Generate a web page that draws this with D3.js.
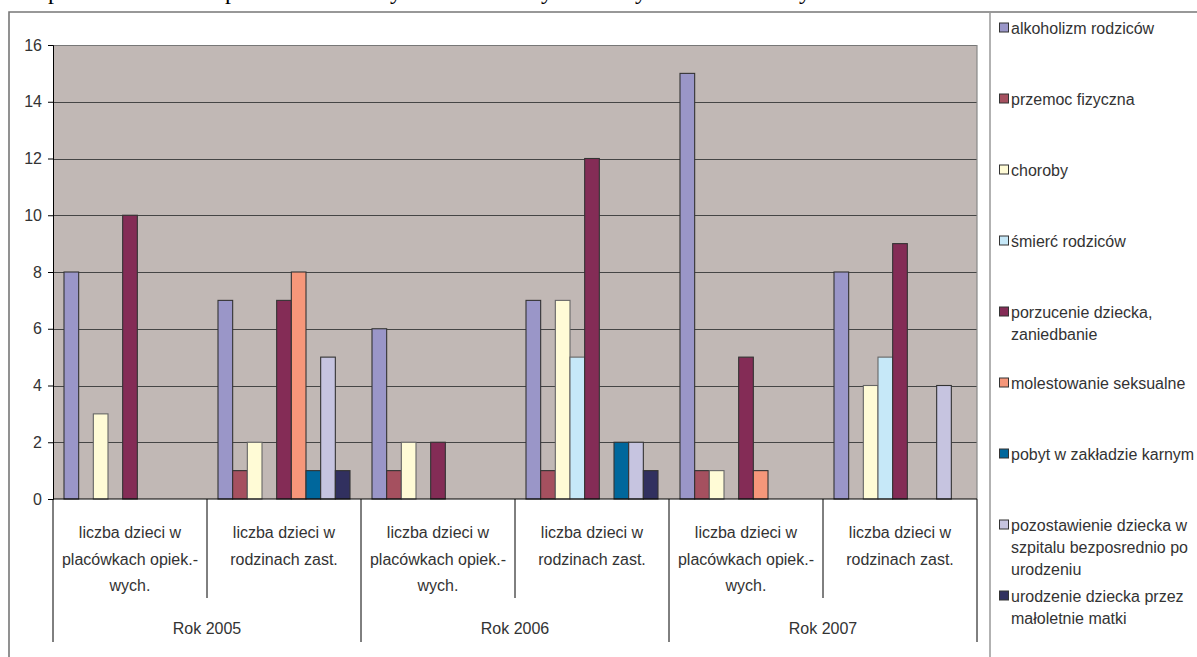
<!DOCTYPE html>
<html>
<head>
<meta charset="utf-8">
<script src="https://cdn.jsdelivr.net/npm/d3@7"></script>
<style>
  body { margin: 0; background: #fff; }
  svg { display: block; font-family: "Liberation Sans", Arial, sans-serif; }
</style>
</head>
<body>
<div id="chart"></div>
<script>

// categories: three years, two kinds of care each
var years = ["Rok 2005", "Rok 2006", "Rok 2007"];
var groupLabels = [
  ["liczba dzieci w", "placówkach opiek.-", "wych."],
  ["liczba dzieci w", "rodzinach zast."]
];

// series names (legend lines)
var seriesNames = [
  ["alkoholizm rodziców"],
  ["przemoc fizyczna"],
  ["choroby"],
  ["śmierć rodziców"],
  ["porzucenie dziecka,", "zaniedbanie"],
  ["molestowanie seksualne"],
  ["pobyt w zakładzie karnym"],
  ["pozostawienie dziecka w", "szpitalu bezposrednio po", "urodzeniu"],
  ["urodzenie dziecka przez", "małoletnie matki"]
];
var seriesColors = ["#9a96c8", "#a5505f", "#fffbd6", "#c6e8f8", "#842c56", "#f6977a", "#00679c", "#c6c4e0", "#31305f"];

// values per series, one per category (2005 plac., 2005 rodz., 2006 plac., 2006 rodz., 2007 plac., 2007 rodz.)
var alkoholizm    = [8, 7, 6, 7, 15, 8];
var przemoc       = [0, 1, 1, 1, 1, 0];
var choroby       = [3, 2, 2, 7, 1, 4];
var smierc        = [0, 0, 0, 5, 0, 5];
var porzucenie    = [10, 7, 2, 12, 5, 9];
var molestowanie  = [0, 8, 0, 0, 1, 0];
var pobyt         = [0, 1, 0, 2, 0, 0];
var pozostawienie = [0, 5, 0, 2, 0, 4];
var urodzenie     = [0, 1, 0, 1, 0, 0];
var seriesValues = [alkoholizm, przemoc, choroby, smierc, porzucenie, molestowanie, pobyt, pozostawienie, urodzenie];

var yTicks = [0, 2, 4, 6, 8, 10, 12, 14, 16];

var svgWidth = 1197;
var svgHeight = 657;

var plotLeft = 53, plotRight = 977, plotTop = 45, plotBottom = 499;

var svg = d3.select("#chart")
  .append("svg")
    .attr("width", svgWidth)
    .attr("height", svgHeight);

// cut-off line of document text above the chart
svg.append("g")
  .style("font-family", "'Liberation Serif', 'Times New Roman', serif")
  .style("font-size", "24px")
  .selectAll("text")
  .data([["p", 48], ["p", 225], ["y", 390], ["y", 541], ["y", 635], ["y", 799]])
  .enter()
  .append("text")
    .attr("x", function(d) { return d[1]; })
    .attr("y", -1)
    .attr("fill", "#000")
    .text(function(d) { return d[0]; });

// outer frame and legend divider
svg.append("path")
  .attr("d", "M9," + (svgHeight + 2) + "V12H" + (svgWidth + 2))
  .attr("fill", "none")
  .attr("stroke", "#777")
  .attr("stroke-width", 1.6);
svg.append("line")
  .attr("x1", 990).attr("x2", 990)
  .attr("y1", 12).attr("y2", svgHeight + 2)
  .attr("stroke", "#999")
  .attr("stroke-width", 1.5);

// scales
var cats = d3.range(years.length * groupLabels.length);
var x0 = d3.scaleBand()
  .domain(cats)
  .range([plotLeft, plotRight])
  .padding(0);
var x1 = d3.scaleBand()
  .domain(d3.range(seriesNames.length))
  .range([0, x0.bandwidth()])
  .paddingInner(0)
  .paddingOuter(0.75);
var y = d3.scaleLinear()
  .domain([0, 16])
  .range([plotBottom, plotTop]);

// plot background
svg.append("rect")
  .attr("x", plotLeft)
  .attr("y", plotTop)
  .attr("width", plotRight - plotLeft)
  .attr("height", plotBottom - plotTop)
  .attr("fill", "#c1b8b5");

// gridlines
svg.selectAll(".grid")
  .data(yTicks.filter(function(d) { return d > 0; }))
  .enter()
  .append("line")
    .attr("x1", plotLeft)
    .attr("x2", plotRight)
    .attr("y1", function(d) { return Math.round(y(d)) + 0.5; })
    .attr("y2", function(d) { return Math.round(y(d)) + 0.5; })
    .attr("stroke", function(d) { return d === 16 ? "#777" : "#454545"; })
    .attr("stroke-width", 1.2);

// right border of plot
svg.append("line")
  .attr("x1", plotRight).attr("x2", plotRight)
  .attr("y1", plotTop).attr("y2", plotBottom)
  .attr("stroke", "#888")
  .attr("stroke-width", 1.2);

// bars
for (var s = 0; s < seriesValues.length; s++) {
  svg.append("g")
    .selectAll("rect")
    .data(seriesValues[s].map(function(v, i) { return { cat: i, v: v, s: s }; }).filter(function(d) { return d.v > 0; }))
    .enter()
    .append("rect")
      .attr("x", function(d) { return x0(d.cat) + x1(d.s); })
      .attr("y", function(d) { return y(d.v); })
      .attr("width", x1.bandwidth())
      .attr("height", function(d) { return y(0) - y(d.v); })
      .attr("fill", seriesColors[s])
      .attr("stroke", s === 2 || s === 3 ? "#666" : "#333")
      .attr("stroke-width", 1.1);
}

// y axis
var yAxis = d3.axisLeft(y)
  .tickValues(yTicks)
  .tickSize(5)
  .tickPadding(6);
var yG = svg.append("g")
  .attr("transform", "translate(" + plotLeft + ",0)")
  .call(yAxis);
yG.select(".domain").attr("stroke", "#000");
yG.selectAll("line").attr("stroke", "#000");
yG.selectAll("text")
  .style("font-size", "16px")
  .attr("fill", "#333");

// x axis line
svg.append("line")
  .attr("x1", plotLeft).attr("x2", plotRight)
  .attr("y1", plotBottom).attr("y2", plotBottom)
  .attr("stroke", "#000")
  .attr("stroke-width", 1.2);

// category separators: short between groups, long between years
var bounds = cats.map(function(c) { return x0(c); }).concat([plotRight]);
svg.selectAll(".sep")
  .data(bounds)
  .enter()
  .append("line")
    .attr("x1", function(d) { return d; })
    .attr("x2", function(d) { return d; })
    .attr("y1", plotBottom)
    .attr("y2", function(d, i) { return i % groupLabels.length === 0 ? 642 : 598; })
    .attr("stroke", "#000")
    .attr("stroke-width", 1);

// group labels
cats.forEach(function(c) {
  var lines = groupLabels[c % groupLabels.length];
  svg.append("text")
    .attr("text-anchor", "middle")
    .attr("fill", "#333")
    .style("font-size", "16px")
    .selectAll("tspan")
    .data(lines)
    .enter()
    .append("tspan")
      .attr("x", x0(c) + x0.bandwidth() / 2)
      .attr("y", function(d, i) { return 538 + i * 26.5; })
      .text(function(d) { return d; });
});

// year labels
svg.selectAll(".year")
  .data(years)
  .enter()
  .append("text")
    .attr("x", function(d, i) { return x0(i * 2) + x0.bandwidth(); })
    .attr("y", 634)
    .attr("text-anchor", "middle")
    .attr("fill", "#333")
    .style("font-size", "16px")
    .text(function(d) { return d; });

// legend
var legendTop = 28, legendStep = 71, legendLine = 22;
var legend = svg.append("g");
seriesNames.forEach(function(lines, i) {
  var ly = legendTop + i * legendStep;
  legend.append("rect")
    .attr("x", 999.5)
    .attr("y", ly - 5)
    .attr("width", 9)
    .attr("height", 9)
    .attr("fill", seriesColors[i])
    .attr("stroke", "#333")
    .attr("stroke-width", 1);
  legend.append("text")
    .attr("fill", "#333")
    .style("font-size", "16px")
    .selectAll("tspan")
    .data(lines)
    .enter()
    .append("tspan")
      .attr("x", 1011)
      .attr("y", function(d, k) { return ly + 6 + k * legendLine; })
      .text(function(d) { return d; });
});

</script>
</body>
</html>
